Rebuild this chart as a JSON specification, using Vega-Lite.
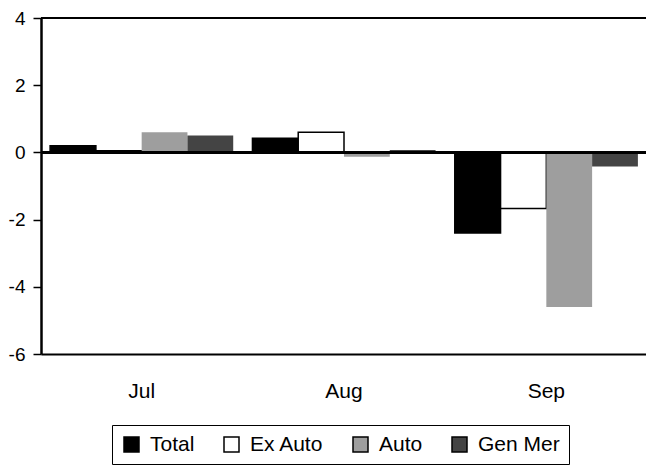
{
  "$schema": "https://vega.github.io/schema/vega-lite/v6.json",
  "autosize": {"type": "none"},
  "padding": {"left": 41, "top": 18, "right": 0, "bottom": 112},
  "width": 606,
  "height": 336,
  "background": "white",
  "config": {
    "view": {"stroke": null},
    "font": "Liberation Sans"
  },
  "data": {
    "values": [
      {"month": "Jul", "series": "Total", "value": 0.2},
      {"month": "Jul", "series": "Ex Auto", "value": 0.05},
      {"month": "Jul", "series": "Auto", "value": 0.6},
      {"month": "Jul", "series": "Gen Mer", "value": 0.5},
      {"month": "Aug", "series": "Total", "value": 0.42},
      {"month": "Aug", "series": "Ex Auto", "value": 0.6},
      {"month": "Aug", "series": "Auto", "value": -0.13},
      {"month": "Aug", "series": "Gen Mer", "value": 0.07},
      {"month": "Sep", "series": "Total", "value": -2.4},
      {"month": "Sep", "series": "Ex Auto", "value": -1.67},
      {"month": "Sep", "series": "Auto", "value": -4.6},
      {"month": "Sep", "series": "Gen Mer", "value": -0.42}
    ]
  },
  "layer": [
    {
      "mark": {"type": "bar", "strokeWidth": 1.5},
      "encoding": {
        "x": {
          "field": "month",
          "type": "nominal",
          "sort": ["Jul", "Aug", "Sep"],
          "scale": {"paddingInner": 0.095, "paddingOuter": 0.045},
          "axis": {
            "title": null,
            "labelAngle": 0,
            "ticks": false,
            "labelPadding": 26,
            "labelFontSize": 21,
            "labelColor": "#000",
            "domainColor": "#000",
            "domainWidth": 2
          }
        },
        "xOffset": {
          "field": "series",
          "type": "nominal",
          "sort": ["Total", "Ex Auto", "Auto", "Gen Mer"],
          "scale": {"paddingInner": 0, "paddingOuter": 0}
        },
        "y": {
          "field": "value",
          "type": "quantitative",
          "scale": {"domain": [-6, 4], "nice": false},
          "axis": {
            "title": null,
            "values": [-6, -4, -2, 0, 2, 4],
            "labelExpr": "toString(datum.value)",
            "grid": false,
            "tickSize": 8,
            "tickColor": "#000",
            "tickWidth": 1.5,
            "labelPadding": 8,
            "labelFontSize": 19,
            "labelColor": "#000",
            "domainColor": "#000",
            "domainWidth": 2.5
          }
        },
        "fill": {
          "field": "series",
          "type": "nominal",
          "sort": ["Total", "Ex Auto", "Auto", "Gen Mer"],
          "scale": {"range": ["#000000", "#ffffff", "#9e9e9e", "#444444"]},
          "legend": {
            "title": null,
            "orient": "none",
            "legendX": 71,
            "legendY": 407,
            "direction": "horizontal",
            "symbolType": "square",
            "symbolSize": 225,
            "symbolStrokeWidth": 1.5,
            "symbolStrokeColor": "#000",
            "labelFontSize": 21,
            "labelColor": "#000",
            "labelOffset": 8,
            "columnPadding": 26,
            "padding": 9,
            "strokeColor": "#000"
          }
        },
        "stroke": {
          "field": "series",
          "type": "nominal",
          "sort": ["Total", "Ex Auto", "Auto", "Gen Mer"],
          "scale": {"range": ["#000000", "#000000", "transparent", "transparent"]},
          "legend": null
        }
      }
    },
    {
      "mark": {"type": "rule", "color": "#000", "strokeWidth": 2.5},
      "encoding": {"y": {"datum": 0}}
    },
    {
      "mark": {"type": "rule", "color": "#000", "strokeWidth": 2},
      "encoding": {"y": {"datum": 4}}
    }
  ]
}
